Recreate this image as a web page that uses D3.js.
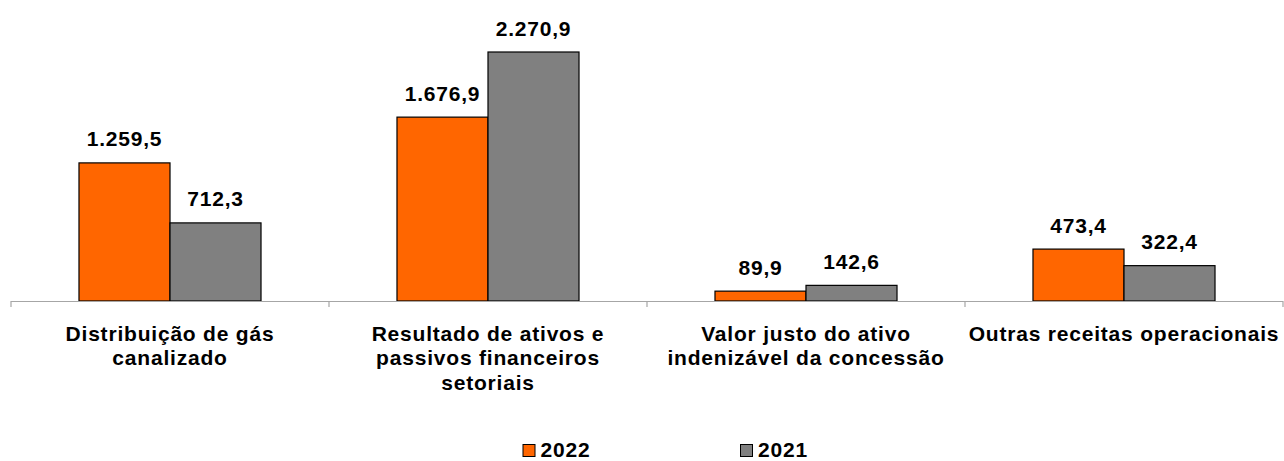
<!DOCTYPE html>
<html lang="pt">
<head>
<meta charset="UTF-8">
<title>Receitas</title>
<script src="https://d3js.org/d3.v7.min.js"></script>
<style>
  body { margin: 0; background: #fff; font-family: "Liberation Sans", Arial, sans-serif; }
  svg { display: block; }
  .val, .cat, .leg { font-size: 21px; font-weight: bold; fill: #000; letter-spacing: 0.8px; }
</style>
</head>
<body>
<svg id="chart"></svg>
<script>
const categories = [
  ["Distribuição de gás", "canalizado"],
  ["Resultado de ativos e", "passivos financeiros", "setoriais"],
  ["Valor justo do ativo", "indenizável da concessão"],
  ["Outras receitas operacionais"]
];
const seriesNames = ["2022", "2021"];
const values2022 = [1259.5, 1676.9, 89.9, 473.4];
const values2021 = [712.3, 2270.9, 142.6, 322.4];
const colors = ["#ff6600", "#808080"];

const W = 1284, H = 461;
const baseY = 301;

const svg = d3.select("#chart").attr("width", W).attr("height", H);

const catKeys = categories.map((c, i) => i);
const x0 = d3.scaleBand().domain(catKeys).range([11, 1283]).padding(0);
const x1 = d3.scaleBand().domain(seriesNames).range([0, x0.bandwidth()]).paddingInner(0).paddingOuter(0.747);
const y = d3.scaleLinear().domain([0, 2270.9]).range([baseY, 52]);

const pt = d3.formatLocale({decimal: ",", thousands: ".", grouping: [3], currency: ["R$", ""]});
const fmt = pt.format(",.1f");

const rows = catKeys.map(i => [values2022[i], values2021[i]]);

const groups = svg.selectAll("g.grp").data(rows).enter().append("g")
  .attr("class", "grp")
  .attr("transform", (d, i) => `translate(${x0(i)},0)`);

groups.selectAll("rect").data(d => d.map((v, j) => ({v, s: seriesNames[j], j}))).enter().append("rect")
  .attr("x", d => x1(d.s))
  .attr("y", d => y(d.v))
  .attr("width", x1.bandwidth())
  .attr("height", d => baseY - y(d.v))
  .attr("fill", d => colors[d.j])
  .attr("stroke", "#000")
  .attr("stroke-width", 1.2);

groups.selectAll("text.val").data(d => d.map((v, j) => ({v, s: seriesNames[j]}))).enter().append("text")
  .attr("class", "val")
  .attr("x", d => x1(d.s) + x1.bandwidth() / 2)
  .attr("y", d => y(d.v) - 16.5)
  .attr("text-anchor", "middle")
  .text(d => fmt(d.v));

// axis line + boundary ticks
svg.append("line").attr("x1", 11).attr("x2", 1283).attr("y1", baseY + 0.5).attr("y2", baseY + 0.5)
  .attr("stroke", "#a6a6a6").attr("stroke-width", 1.2);
const bounds = catKeys.map(i => x0(i)).concat([x0(catKeys.length - 1) + x0.bandwidth()]);
svg.selectAll("line.tk").data(bounds).enter().append("line")
  .attr("class", "tk")
  .attr("x1", d => d).attr("x2", d => d)
  .attr("y1", baseY).attr("y2", baseY + 6)
  .attr("stroke", "#a6a6a6").attr("stroke-width", 1.2);

// category labels
const catText = svg.selectAll("text.cat").data(categories).enter().append("text")
  .attr("class", "cat")
  .attr("text-anchor", "middle")
  .attr("x", (d, i) => x0(i) + x0.bandwidth() / 2)
  .attr("y", 340.5);
catText.selectAll("tspan").data(d => d).enter().append("tspan")
  .attr("x", function() { return this.parentNode.getAttribute("x"); })
  .attr("dy", (d, k) => k === 0 ? 0 : 24.5)
  .text(d => d);

// legend
const legX = [523, 740.5];
seriesNames.forEach((s, j) => {
  svg.append("rect").attr("x", legX[j]).attr("y", 444.5).attr("width", 12).attr("height", 12)
    .attr("fill", colors[j]).attr("stroke", "#000").attr("stroke-width", 1);
  svg.append("text").attr("class", "leg").attr("x", legX[j] + 17.5).attr("y", 456.5).text(s);
});
</script>
</body>
</html>
